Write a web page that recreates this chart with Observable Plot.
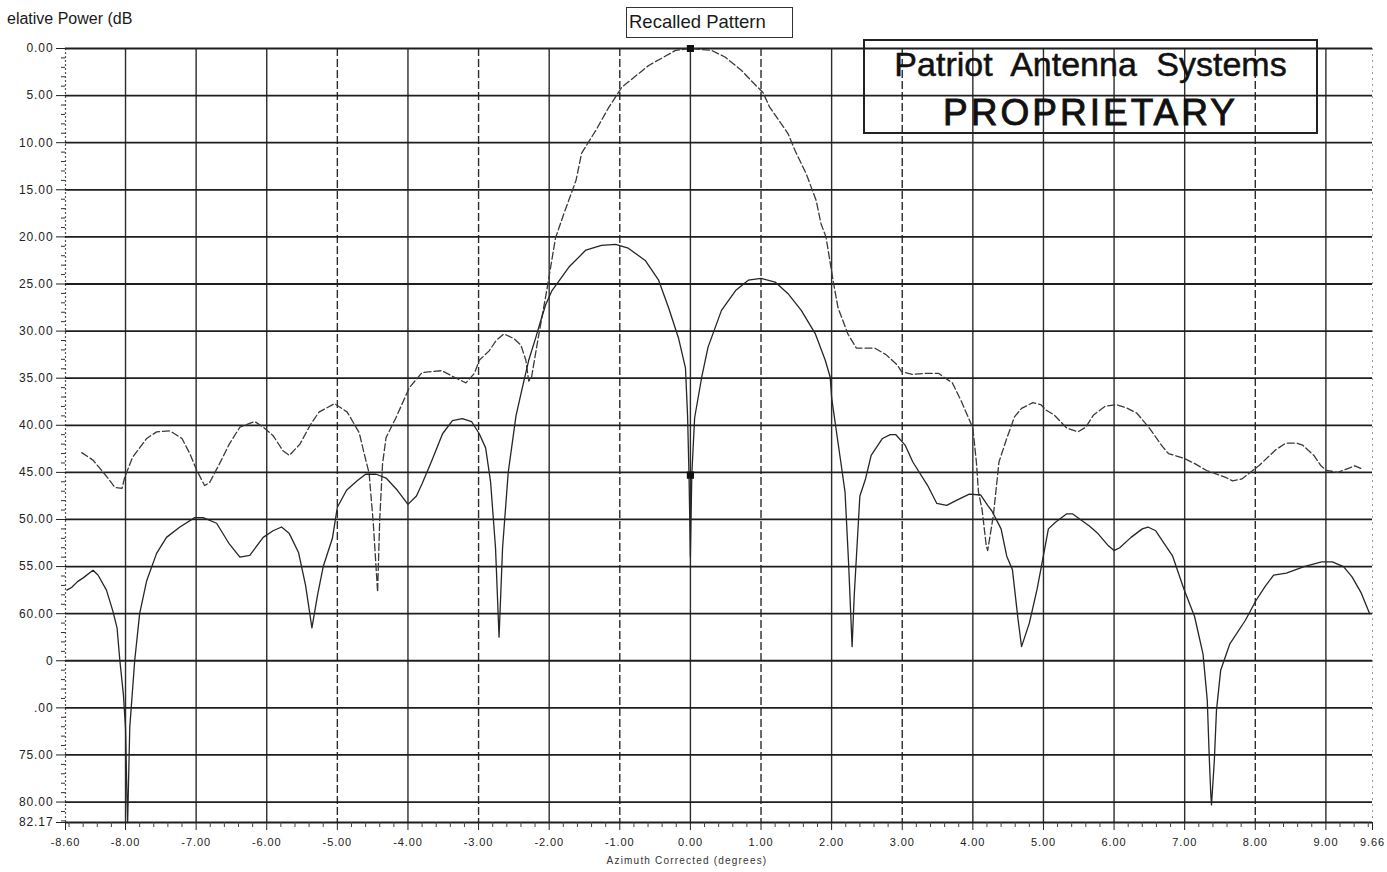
<!DOCTYPE html>
<html>
<head>
<meta charset="utf-8">
<script src="https://cdn.jsdelivr.net/npm/d3@7"></script>
<script src="https://cdn.jsdelivr.net/npm/@observablehq/plot@0.6"></script>
<style>
  body { margin: 0; background: #fff; }
  #wrap { position: relative; width: 1387px; height: 872px; overflow: hidden; font-family: "Liberation Sans", Arial, sans-serif; color: #1a1a1a; }
  #wrap svg text { letter-spacing: 0.9px; fill: #222; }
  #ytitle { position: absolute; left: 7px; top: 10px; font-size: 16px; line-height: 18px; white-space: nowrap; }
  #legend { position: absolute; left: 626px; top: 7px; width: 167px; height: 31px; border: 1.5px solid #333; box-sizing: border-box; font-size: 18.5px; line-height: 28px; padding-left: 2px; white-space: nowrap; background: #fff; }
  #stamp { position: absolute; left: 863px; top: 39px; width: 455px; height: 95px; border: 2.5px solid #222; box-sizing: border-box; }
  .st { position: absolute; left: 863px; width: 455px; text-align: center; white-space: nowrap; color: #111; -webkit-text-stroke: 0.5px #111; }
  #st1 { top: 45px; font-size: 34px; line-height: 38px; word-spacing: 10px; }
  #st2 { top: 92px; font-size: 37px; line-height: 42px; letter-spacing: 3px; -webkit-text-stroke: 0.9px #111; }
  #xtitle { position: absolute; left: 487px; width: 400px; top: 855px; text-align: center; font-size: 10px; line-height: 12px; letter-spacing: 1.2px; white-space: nowrap; color: #333; }
</style>
</head>
<body>
<div id="wrap">
  <div id="chart"></div>
  <div id="ytitle">elative Power (dB</div>
  <div id="legend">Recalled Pattern</div>
  <div id="stamp"></div>
  <div class="st" id="st1">Patriot Antenna Systems</div>
  <div class="st" id="st2">PROPRIETARY</div>
  <div id="xtitle">Azimuth Corrected (degrees)</div>
</div>
<script>
// ---- Sum pattern (dashed trace, peak 0 dB at boresight) ----
const sumAz = [-8.62,-8.46,-8.26,-8.15,-8.05,-8.01,-7.90,-7.70,-7.56,-7.37,-7.20,-7.09,-6.99,-6.88,-6.81,-6.67,-6.53,-6.38,-6.17,-6.05,-5.91,-5.77,-5.68,-5.53,-5.37,-5.26,-5.04,-4.86,-4.69,-4.62,-4.55,-4.49,-4.43,-4.40,-4.36,-4.31,-4.17,-3.98,-3.80,-3.52,-3.32,-3.18,-3.06,-2.99,-2.85,-2.75,-2.64,-2.50,-2.40,-2.33,-2.29,-2.25,-2.15,-2.03,-1.91,-1.79,-1.62,-1.54,-1.34,-1.16,-0.97,-0.59,-0.21,0.00,0.30,0.49,0.72,0.86,1.03,1.12,1.38,1.48,1.64,1.78,1.85,1.92,2.02,2.09,2.23,2.35,2.61,2.77,2.93,2.99,3.15,3.31,3.52,3.57,3.71,3.84,3.92,4.00,4.05,4.08,4.13,4.19,4.21,4.29,4.37,4.48,4.59,4.69,4.85,4.96,5.04,5.15,5.33,5.49,5.60,5.71,5.87,6.03,6.19,6.32,6.40,6.50,6.69,6.77,6.99,7.15,7.31,7.57,7.68,7.81,8.05,8.29,8.43,8.59,8.67,8.83,8.93,9.01,9.17,9.31,9.41,9.50];
const sumDb = [42.9,43.7,45.5,46.6,46.7,45.5,43.4,41.4,40.7,40.6,41.4,43.0,44.8,46.4,46.1,44.1,42.0,40.2,39.6,40.2,41.1,42.7,43.2,42.0,39.8,38.6,37.7,38.6,40.8,43.0,45.1,50.5,57.7,50.0,44.1,41.3,39.2,36.0,34.4,34.2,35.0,35.5,34.5,33.1,32.1,31.0,30.3,30.8,31.5,33.1,35.3,34.9,30.5,25.5,20.1,17.5,14.0,11.1,8.7,6.3,4.1,1.8,0.2,0.0,0.2,0.9,2.3,3.4,4.7,6.2,9.0,10.8,13.3,16.1,18.6,20.0,24.6,27.5,30.3,31.8,31.8,32.5,33.6,34.3,34.6,34.5,34.5,34.8,35.5,37.5,38.9,40.3,43.9,47.1,48.9,52.8,53.3,49.6,43.9,41.4,39.1,38.2,37.6,37.8,38.4,38.9,40.3,40.7,40.2,38.9,38.0,37.8,38.2,38.7,39.4,40.3,42.3,43.0,43.5,44.1,44.8,45.5,45.9,45.7,44.3,42.6,41.9,41.9,42.1,43.2,44.3,44.8,45.0,44.6,44.3,44.6];

// ---- Difference pattern (solid trace, null at boresight) ----
const diffAz = [-8.83,-8.76,-8.68,-8.60,-8.46,-8.39,-8.27,-8.18,-8.12,-8.08,-8.03,-8.00,-7.98,-7.97,-7.94,-7.87,-7.80,-7.70,-7.56,-7.42,-7.23,-7.02,-6.90,-6.71,-6.53,-6.38,-6.24,-6.05,-5.91,-5.79,-5.68,-5.55,-5.45,-5.36,-5.28,-5.20,-5.07,-5.00,-4.87,-4.72,-4.60,-4.45,-4.31,-4.15,-4.00,-3.88,-3.80,-3.66,-3.51,-3.37,-3.23,-3.10,-2.99,-2.90,-2.83,-2.76,-2.71,-2.66,-2.58,-2.47,-2.38,-2.29,-2.19,-2.12,-2.05,-1.96,-1.72,-1.48,-1.26,-1.06,-0.88,-0.64,-0.45,-0.31,-0.17,-0.07,-0.04,-0.02,0.00,0.02,0.06,0.16,0.25,0.44,0.64,0.82,1.00,1.20,1.38,1.57,1.77,1.91,1.98,2.00,2.13,2.19,2.24,2.29,2.32,2.40,2.48,2.56,2.72,2.83,2.91,3.04,3.15,3.36,3.49,3.63,3.76,3.95,4.11,4.21,4.27,4.40,4.48,4.56,4.64,4.69,4.80,4.91,4.99,5.07,5.17,5.33,5.41,5.65,5.76,5.92,6.00,6.08,6.24,6.40,6.48,6.59,6.83,6.99,7.14,7.26,7.32,7.35,7.37,7.38,7.42,7.45,7.51,7.64,7.86,8.01,8.14,8.26,8.44,8.69,8.94,9.09,9.25,9.37,9.50,9.62];
const diffDb = [57.5,57.2,56.6,56.2,55.4,55.9,57.5,59.7,61.5,65.0,68.6,72.1,79.3,82.17,72.1,65.0,60.0,56.5,53.6,51.9,50.8,49.8,49.8,50.4,52.6,54.0,53.8,51.9,51.2,50.8,51.5,53.5,57.0,61.5,58.0,55.0,52.0,48.7,46.9,45.9,45.2,45.2,45.6,46.9,48.4,47.5,46.2,43.7,40.9,39.5,39.3,39.6,40.9,42.4,46.0,53.0,62.5,53.0,45.0,39.0,36.0,33.1,30.7,28.9,27.2,25.7,23.2,21.4,20.9,20.8,21.2,22.5,24.6,27.5,30.7,33.9,39.0,45.2,54.0,45.2,39.2,34.9,31.7,27.8,25.7,24.6,24.4,24.8,26.0,27.8,30.3,33.1,34.9,37.1,43.9,47.1,54.6,63.5,58.1,47.5,45.7,43.2,41.4,41.0,41.0,42.1,43.9,46.4,48.3,48.5,48.0,47.3,47.4,48.5,49.1,51.0,53.9,55.3,60.6,63.5,61.0,57.4,54.2,51.0,50.3,49.4,49.4,50.7,51.4,52.8,53.3,53.0,51.9,51.0,50.8,51.2,53.9,57.4,60.3,64.3,69.2,75.6,79.2,80.3,75.6,70.3,66.0,63.2,60.7,58.6,57.1,55.9,55.7,55.0,54.5,54.5,55.0,56.1,57.8,60.0];

// ---- Cursor markers ----
const markerAz = [0, 0];
const markerDb = [0, 45.3];

// ---- Axes / ticks ----
const xTickValues = [-8.85,-8,-7,-6,-5,-4,-3,-2,-1,0,1,2,3,4,5,6,7,8,9,9.66];
const xTickLabels = ["-8.60","-8.00","-7.00","-6.00","-5.00","-4.00","-3.00","-2.00","-1.00","0.00","1.00","2.00","3.00","4.00","5.00","6.00","7.00","8.00","9.00","9.66"];
const yTickValues = [0,5,10,15,20,25,30,35,40,45,50,55,60,65,70,75,80,82.17];
const yTickLabels = ["0.00","5.00","10.00","15.00","20.00","25.00","30.00","35.00","40.00","45.00","50.00","55.00","60.00","0",".00","75.00","80.00","82.17"];
const xGridSolid = [-8,-7,-6,-4,-2,0,2,4,5,6,7,9];
const xGridDashed = [-5,-3,-1,1,3,8];
const yGrid = [0,5,10,15,20,25,30,35,40,45,50,55,60,65,70,75,80];

const sumData = sumAz.map((az, i) => ({az, db: sumDb[i]}));
const diffData = diffAz.map((az, i) => ({az, db: diffDb[i]}));
const markers = markerAz.map((az, i) => ({az, db: markerDb[i]}));
const xLabel = new Map(xTickValues.map((v, i) => [v, xTickLabels[i]]));
const yLabel = new Map(yTickValues.map((v, i) => [v, yTickLabels[i]]));
const minorX = d3.range(-8.8, 9.61, 0.2).map(v => +v.toFixed(2)).filter(v => Math.abs(v - Math.round(v)) > 0.01);
const minorY = d3.range(0, 83, 1).filter(v => v % 5 !== 0);

const chart = Plot.plot({
  width: 1387,
  height: 872,
  marginTop: 48,
  marginBottom: 50,
  marginLeft: 65,
  marginRight: 15,
  x: {domain: [-8.85, 9.66]},
  y: {domain: [0, 82.17], reverse: true},
  style: {fontFamily: "'Liberation Sans', Arial, sans-serif", background: "white", color: "#222"},
  marks: [
    Plot.ruleX(xGridSolid, {stroke: "#2c2c2c", strokeWidth: 1.4}),
    Plot.ruleX(xGridDashed, {stroke: "#2c2c2c", strokeWidth: 1.4, strokeDasharray: "8,3"}),
    Plot.ruleX([-8.85], {stroke: "#555", strokeWidth: 1.2, strokeDasharray: "2,2"}),
    Plot.ruleX([9.66], {stroke: "#999", strokeWidth: 1, strokeDasharray: "2,4"}),
    Plot.ruleY(yGrid, {stroke: "#1e1e1e", strokeWidth: 1.8}),
    Plot.ruleY([82.17], {stroke: "#1e1e1e", strokeWidth: 2.2}),
    Plot.line(sumData, {x: "az", y: "db", stroke: "#3a3a3a", strokeWidth: 1.3, strokeDasharray: "7,3", curve: "linear"}),
    Plot.line(diffData, {x: "az", y: "db", stroke: "#262626", strokeWidth: 1.3, curve: "linear"}),
    Plot.dot(markers, {x: "az", y: "db", symbol: "square", r: 3.2, fill: "#111", stroke: "#111"}),
    Plot.axisY({ticks: minorY, tickSize: 4, tickFormat: () => "", label: null, stroke: "#333"}),
    Plot.axisY({ticks: yTickValues, tickFormat: d => yLabel.get(d), tickSize: 9, tickPadding: 3, fontSize: 12, label: null, stroke: "#222"}),
    Plot.axisX({ticks: minorX, tickSize: 5, tickFormat: () => "", label: null, stroke: "#444"}),
    Plot.axisX({ticks: xTickValues, tickFormat: d => xLabel.get(d), tickSize: 8, tickPadding: 8, fontSize: 11, label: null, stroke: "#222"})
  ]
});
document.getElementById("chart").appendChild(chart);
</script>
</body>
</html>
